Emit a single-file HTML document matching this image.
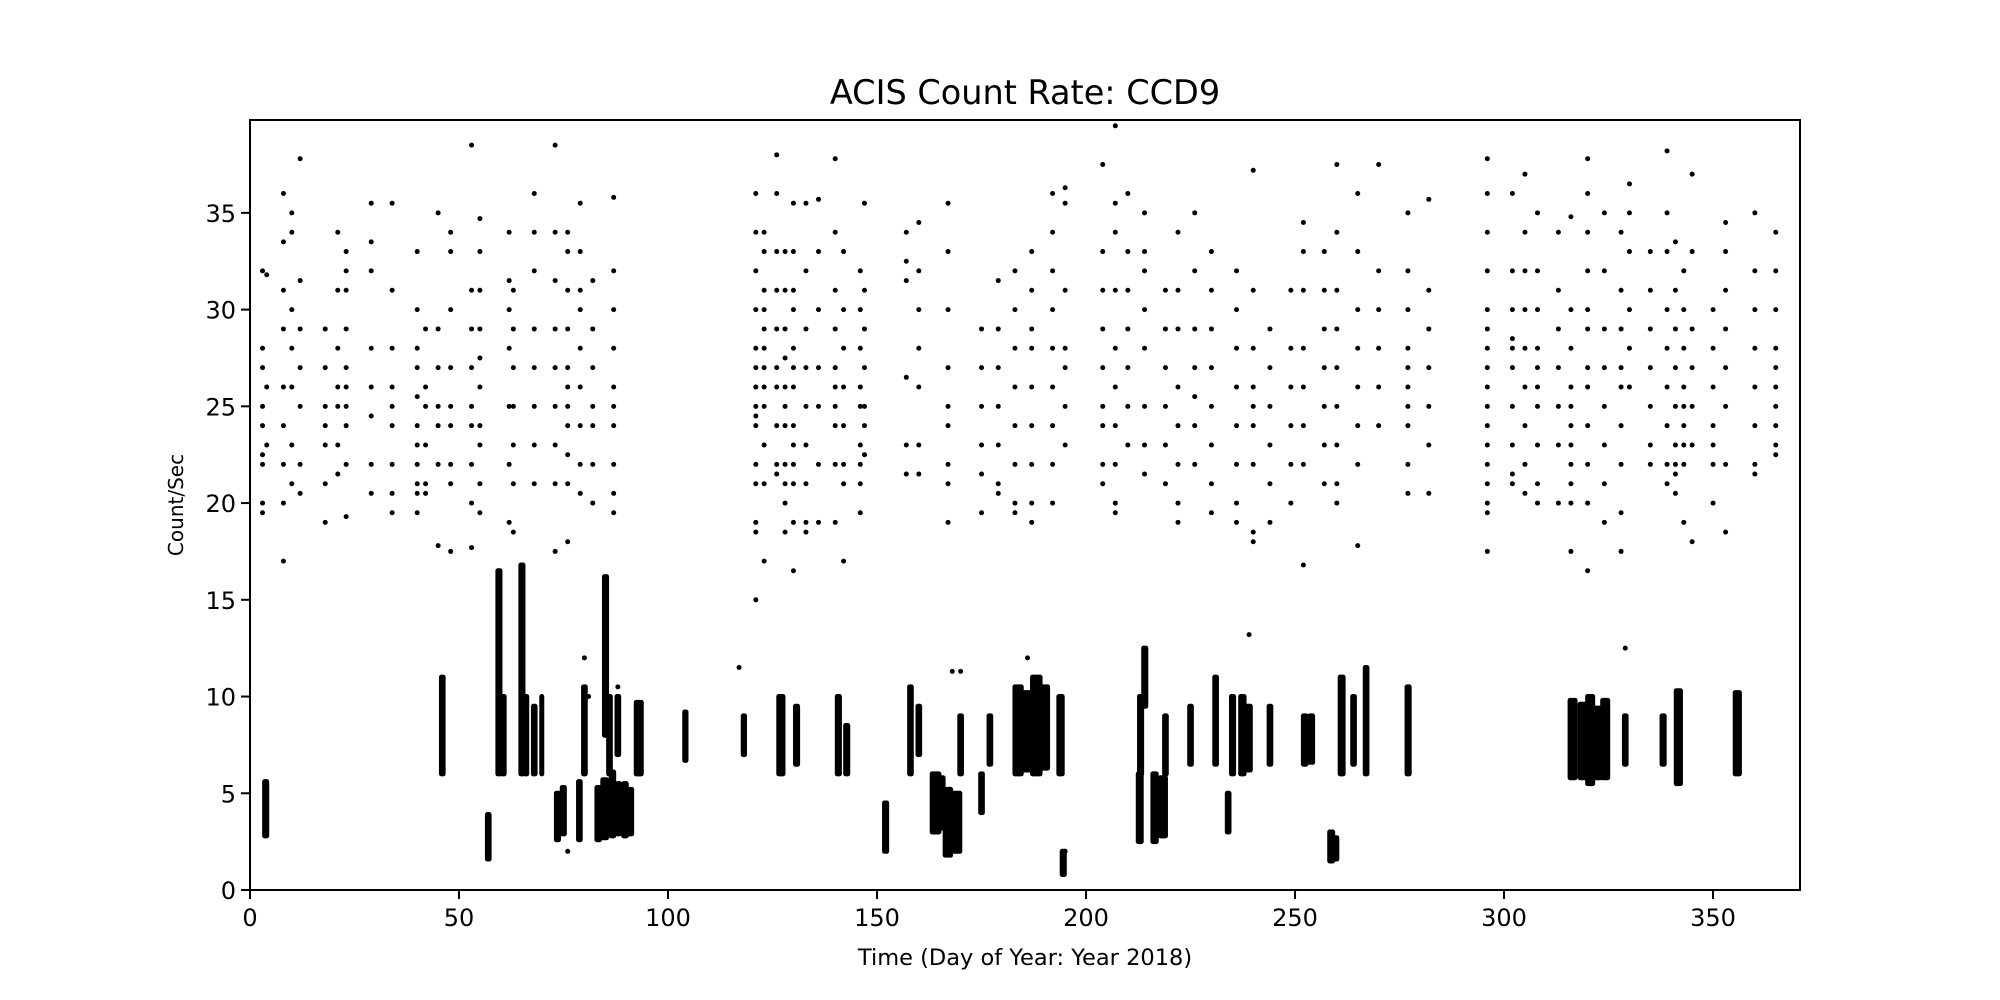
<!DOCTYPE html>
<html><head><meta charset="utf-8"><style>
html,body{margin:0;padding:0;background:#fff;}
svg{display:block;font-family:"DejaVu Sans","Liberation Sans",sans-serif;}
</style></head><body>
<svg id="chart" width="2000" height="1000" viewBox="0 0 2000 1000" xmlns="http://www.w3.org/2000/svg">
<rect width="2000" height="1000" fill="#fff"/>
<text x="1025" y="104" font-size="33.5" text-anchor="middle" fill="#000">ACIS Count Rate: CCD9</text>
<text x="1025" y="965" font-size="22.5" text-anchor="middle" fill="#000">Time (Day of Year: Year 2018)</text>
<text x="0" y="0" font-size="20" text-anchor="middle" fill="#000" transform="translate(183,505) rotate(-90)">Count/Sec</text>
<g id="marks"></g>
<g id="axes"></g>
</svg>
<script>
const xTicks = [0, 50, 100, 150, 200, 250, 300, 350];
const yTicks = [0, 5, 10, 15, 20, 25, 30, 35];
// low-band dense clusters: start day, end day, min, max
const clusterStart = [3.5,45.8,56.8,59.3,60.3,64.8,65.8,67.8,69.8,73.3,74.7,78.6,79.8,83,84.4,86.4,87.9,89.4,90.5,92.4,84.8,85.8,87.8,93,104,118,126.5,130.5,140.5,142.5,151.8,157.8,159.8,163.2,164.8,166.3,168,169.8,174.8,176.8,183,185,187.2,189.3,193.5,194.3,212.5,213.8,212.8,216,217.8,218.8,224.8,230.8,233.8,234.8,237,238.5,243.8,252,253.5,258.3,259.3,260.8,263.8,266.8,276.8,315.8,318.2,320,321.8,323.6,328.8,337.8,341.2,355.3];
const clusterEnd   = [4,46.2,57.2,59.8,60.8,65.3,66.2,68.2,69.8,73.8,75.2,79,80.2,83.6,85.3,87,88.4,90,91.3,93,85.3,86.2,88.2,93.6,104.3,118.3,127.5,131,141,143,152.3,158.2,160.2,164.8,165.8,167.6,169.8,170.2,175.2,177.2,184.5,186.8,189,190.8,194.3,194.8,213.2,214.3,213.3,216.8,219,219.2,225.2,231.2,234.2,235.3,237.8,239.3,244.2,252.6,254.2,259,260,261.5,264.2,267.2,277.3,317,319.5,321.2,323,324.8,329.2,338.3,342.2,356.3];
const clusterLo    = [2.8,6,1.6,6,6,6,6,6,6,2.6,2.9,2.6,6,2.6,2.7,2.8,2.9,2.8,2.9,6,8,6,7,6,6.7,7,6,6.5,6,6,2,6,7,3,3.2,1.8,2,6,4,6.5,6,6.2,6,6.3,6,0.8,2.5,9.5,6,2.5,2.8,6,6.5,6.5,3,6,6,6.2,6.5,6.5,6.6,1.5,1.6,6,6.5,6,6,5.8,5.8,5.5,5.8,5.8,6.5,6.5,5.5,6];
const clusterHi    = [5.6,11,3.9,16.5,10,16.8,10,9.5,10,5,5.3,5.6,10.5,5.3,5.7,6.1,5.5,5.5,5.2,9.7,16.2,10,10,9.7,9.2,9,10,9.5,10,8.5,4.5,10.5,9.5,6,5.8,5.2,5,9,6,9,10.5,10.2,11,10.5,10,2,6,12.5,10,6,5.8,9,9.5,11,5,10,10,9.5,9.5,9,9,3,2.7,11,10,11.5,10.5,9.8,9.6,10,9.4,9.8,9,9,10.3,10.2];
// scattered upper-band points: day and values per column
const upperDays = [3,4,8,10,12,18,21,23,29,34,40,42,45,48,53,55,62,63,68,73,76,79,82,87,121,123,126,128,130,133,136,140,142,146,147,157,160,167,175,179,183,187,192,195,204,207,210,214,219,222,226,230,236,240,244,249,252,257,260,265,270,277,282,296,302,305,308,313,316,320,324,328,330,335,339,341,343,345,350,353,360,365];
const upperVals = [
[32,28,27,25,24,22,22.5,20,19.5],[31.8,26,23],[36,33.5,31,29,26,24,22,20,17],[35,34,30,28,26,23,21],[37.8,31.5,29,27,25,22,20.5],
[29,27,25,24,23,21,19],[34,31,28,26,25,23,21.5],[33,32,31,29,27,26,25,24,22,19.3],[35.5,33.5,32,28,26,24.5,22,20.5],[35.5,31,28,26,25,24,22,20.5,19.5],
[33,30,28,27,25.5,24,23,22,21,20.5,19.5],[29,26,25,23,21,20.5],[35,29,27,25,24,22,17.8],[34,33,30,27,25,24,22,21,17.5],[38.5,31,29,27,25,24,22,20,17.7],
[34.7,33,31,29,27.5,26,24,23,21,19.5],[34,31.5,30,28,25,22,19],[31,29,27,25,23,21,18.5],[36,34,32,29,27,25,23,21],[38.5,34,31.5,29,27,25,23,21,17.5],
[34,33,31,29,27,26,25,24,22.5,21,18],[35.5,33,31,30,28,26,24,22,20.5],[31.5,29,27,25,24,22,20],[35.8,32,30,28,26,25,24,22,20.5,19.5],
[36,34,32,30,28,27,26,25,24.5,24,22,21,19,18.5,15],[34,33,31,30,29,28,27,26,25,23,21,17],[38,36,33,31,29,27,26,24,22,21.5],[33,31,29,27.5,26,25,24,22,21,20,18.5],
[35.5,33,31,30,28,27,26,24,23,22,21,19,16.5],[35.5,32,29,27,25,23,21,19,18.5],[35.7,33,30,27,25,22,19],[37.8,34,31,29,27,26,25,24,22,19],[33,30,28,26,24,22,21,17],
[32,30,28,26,25,23,22,21,19.5],[35.5,31,29,27,25,24,22.5],[34,32.5,31.5,26.5,23,21.5],[34.5,32,30,28,26,23,21.5],[35.5,33,30,27,25,24,22,21,19],
[29,27,25,23,21.5,19.5],[31.5,29,27,25,23,21,20.5],[32,30,28,26,24,22,20,19.5],[33,31,29,28,26,24,22,20,19],[36,34,32,30,28,26,24,22,20],[36.3,35.5,31,28,27,25,23],
[37.5,33,31,29,27,25,24,22,21],[39.5,35.5,34,31,28,26,24,22,20,19.5],[36,33,31,29,27,25,23],[35,33,32,30,28,25,23,21.5],[31,29,27,25,23,21],[34,31,29,26,24,22,20,19],
[35,32,29,27,25.5,24,22],[33,31,29,27,25,23,21,19.5],[32,30,28,26,24,22,20,19],[37.2,31,28,26,25,24,22,18.5,18],[29,27,25,23,21,19],[31,28,26,24,22,20],
[34.5,33,31,28,26,24,22,16.8],[33,31,29,27,25,23,21],[37.5,34,31,29,27,25,23,21,20],[36,33,30,28,26,24,22,17.8],[37.5,32,30,28,26,24],[35,32,30,28,27,26,25,24,22,20.5],
[35.7,31,29,27,25,23,20.5],[37.8,36,34,32,30,29,28,27,26,25,24,23,22,21,20,19.5,17.5],[36,32,30,28.5,28,27,25,23,21.5,21],[37,34,32,30,28,26,24,22,20.5],
[35,32,30,28,27,26,25,23,21,20],[34,31,29,27,25,23,20],[34.8,30,28,26,25,24,23,22,21,20,17.5],[37.8,36,34,32,30,29,27,26,24,22,20,16.5],[35,32,29,27,25,23,21,19],
[34,31,29,27,26,24,22,19.5,17.5],[36.5,35,33,30,28,26],[33,31,29,27,25,23,22],[38.2,35,33,30,28,26,24,22,21],[33.5,31,29,27,25,23,22,21.5,20.5],
[32,30,28,26,25,24,23,22,19],[37,33,29,27,25,23,18],[30,28,26,24,23,22,20],[34.5,33,31,29,27,25,22,18.5],[35,32,30,28,26,24,22,21.5],[34,32,30,28,27,26,25,24,23,22.5]
];
const strayDays = [239,329,80,117,170,76,81,88,168,186,195];
const strayVals = [13.2,12.5,12,11.5,11.3,2,10,10.5,11.3,12,2];

const L=250,R=1800,T=120,B=890,XMAX=370.8,YMAX=39.8;
const xs=d=>L+d/XMAX*(R-L);
const ys=v=>B-v/YMAX*(B-T);
const NS="http://www.w3.org/2000/svg";
const marks=document.getElementById('marks');
const axes=document.getElementById('axes');
function mk(tag,attrs,parent){const e=document.createElementNS(NS,tag);for(const k in attrs)e.setAttribute(k,attrs[k]);parent.appendChild(e);return e;}

for(let i=0;i<clusterStart.length;i++){
  const x0=xs(clusterStart[i]),x1=xs(clusterEnd[i]);
  const w=Math.max(5,x1-x0+5);
  const r=mk('rect',{x:x0-2.5,y:ys(clusterHi[i])-2.5,width:w,height:ys(clusterLo[i])-ys(clusterHi[i])+5,rx:2.5,fill:'#000'},marks);
  
  
}
for(let i=0;i<upperDays.length;i++){
  for(const v of upperVals[i]){
    const c=mk('circle',{cx:xs(upperDays[i]),cy:ys(v),r:2.5,fill:'#000'},marks);
    
    
  }
}
for(let i=0;i<strayDays.length;i++){
  const c=mk('circle',{cx:xs(strayDays[i]),cy:ys(strayVals[i]),r:2.5,fill:'#000'},marks);
  
  
}
const frame=mk('rect',{x:L,y:T,width:R-L,height:B-T,fill:'none',stroke:'#000','stroke-width':2},axes);


for(const t of xTicks){
  const x=xs(t);
  mk('line',{x1:x,y1:B,x2:x,y2:B+9,stroke:'#000','stroke-width':2},axes);
  const tx=mk('text',{x:x,y:B+36,'font-size':24,'text-anchor':'middle',fill:'#000'},axes);
  tx.textContent=t;
  
  
}
for(const t of yTicks){
  const y=ys(t);
  mk('line',{x1:L-9,y1:y,x2:L,y2:y,stroke:'#000','stroke-width':2},axes);
  const ty=mk('text',{x:L-14,y:y+9,'font-size':24,'text-anchor':'end',fill:'#000'},axes);
  ty.textContent=t;
  
  
}
</script>
</body></html>
